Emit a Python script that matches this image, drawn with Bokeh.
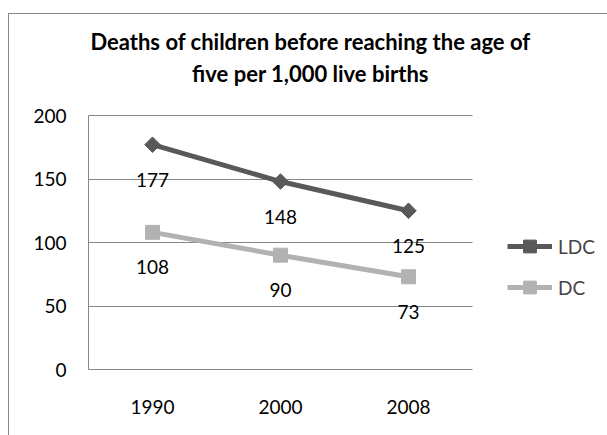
from bokeh.plotting import figure
from bokeh.models import (ColumnDataSource, Range1d, LabelSet, Label, Legend, LegendItem,
                          FixedTicker)
from bokeh.core.properties import value
from bokeh.embed import file_html
from bokeh.resources import INLINE
import numpy as np

years = ["1990", "2000", "2008"]
ldc = [177, 148, 125]
dc = [108, 90, 73]
series_names = ["LDC", "DC"]
title_text = "Deaths of children before reaching the age of\nfive per 1,000 live births"
y_ticks = [0, 50, 100, 150, 200]

FONT = "Lato"
GRID = "#868686"
LDC_COLOR = "#595959"
DC_COLOR = "#b2b2b2"

# layout (pixels)
canvas_w, canvas_h = 607, 435
frame_left, frame_bottom_border = 88, 66
plot_top_px = 115            # where the value axis maximum sits
slot_px = 128.0              # width of one category slot
frame_w = canvas_w - frame_left
frame_h = canvas_h - frame_bottom_border

n_cat = len(years)
xpos = np.arange(n_cat) + 0.5
y_max = max(y_ticks)
y_top = y_max * frame_h / (frame_h - plot_top_px)

p = figure(width=canvas_w, height=canvas_h,
           x_range=Range1d(0, frame_w / slot_px), y_range=Range1d(0, y_top),
           output_backend="svg", toolbar_location=None,
           min_border_left=frame_left, min_border_right=0, min_border_top=0,
           min_border_bottom=frame_bottom_border)
p.outline_line_color = None
p.background_fill_alpha = 0
p.border_fill_alpha = 0
p.styles = {
    "background": ("linear-gradient(#868686,#868686) 8px 13px / 1px 100% no-repeat, "
                   "linear-gradient(#868686,#868686) 8px 13px / 100% 1px no-repeat, white"),
}

p.xgrid.grid_line_color = None
p.ygrid.ticker = FixedTicker(ticks=y_ticks)
p.ygrid.grid_line_color = GRID
p.ygrid.grid_line_width = 1
if "cross_bounds" in p.ygrid.properties():
    p.ygrid.cross_bounds = (0, n_cat)
else:
    p.ygrid.grid_line_color = None
    p.segment(x0=0, x1=n_cat, y0=y_ticks, y1=y_ticks, line_color=GRID, line_width=1)

p.yaxis.ticker = FixedTicker(ticks=y_ticks)
p.yaxis.bounds = (0, y_max)
p.xaxis.ticker = FixedTicker(ticks=list(xpos))
p.xaxis.major_label_overrides = {float(x): y for x, y in zip(xpos, years)}
p.xaxis.bounds = (0, n_cat)
for ax in (p.xaxis, p.yaxis):
    ax.axis_line_color = GRID
    ax.major_tick_line_color = None
    ax.minor_tick_line_color = None
    ax.major_tick_in = 0
    ax.major_tick_out = 0
    ax.major_label_text_font = FONT
    ax.major_label_text_font_size = "19px"
    ax.major_label_text_color = "black"
p.yaxis.major_label_standoff = 22
p.xaxis.major_label_standoff = 30

src_ldc = ColumnDataSource(dict(x=xpos, y=ldc, lbl=[str(v) for v in ldc]))
src_dc = ColumnDataSource(dict(x=xpos, y=dc, lbl=[str(v) for v in dc]))

l1 = p.line("x", "y", source=src_ldc, line_color=LDC_COLOR, line_width=5)
m1 = p.scatter("x", "y", source=src_ldc, marker="square", angle=np.pi / 4, size=11,
               fill_color=LDC_COLOR, line_color=LDC_COLOR)
l2 = p.line("x", "y", source=src_dc, line_color=DC_COLOR, line_width=5)
m2 = p.scatter("x", "y", source=src_dc, marker="square", size=14,
               fill_color=DC_COLOR, line_color=DC_COLOR)

for src in (src_ldc, src_dc):
    p.add_layout(LabelSet(x="x", y="y", text="lbl", source=src, y_offset=-35,
                          text_align="center", text_baseline="middle",
                          text_font=value(FONT), text_font_size="19px",
                          text_color="black"))

legend = Legend(items=[LegendItem(label=series_names[0], renderers=[l1, m1]),
                       LegendItem(label=series_names[1], renderers=[l2, m2])],
                location=(419, 66), glyph_width=45, glyph_height=32, label_height=20,
                spacing=9, padding=0, margin=0, label_standoff=6,
                label_text_font=FONT, label_text_font_size="19px",
                border_line_color=None, background_fill_alpha=0)
p.add_layout(legend)

p.add_layout(Label(x=310 - frame_left, y=frame_h - 57, x_units="screen", y_units="screen",
                   text=title_text, text_align="center", text_baseline="middle",
                   text_font=FONT, text_font_size="22px", text_font_style="bold",
                   text_line_height=1.15, text_color="black"))

open("out.html", "w").write(file_html(p, INLINE))
